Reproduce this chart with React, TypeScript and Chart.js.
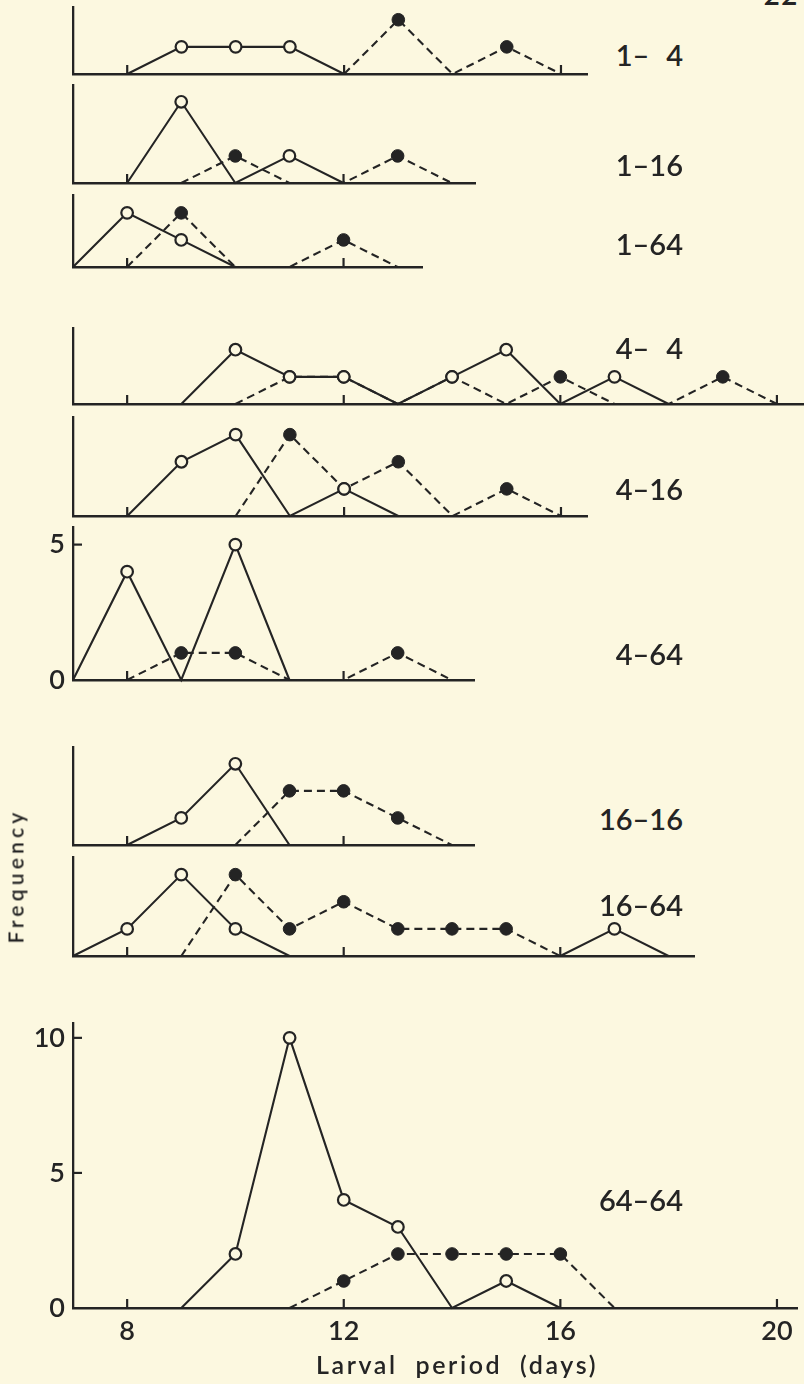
import React, { useEffect, useRef } from 'react';
import { Chart, registerables } from 'chart.js';

Chart.register(...registerables);

// ---------- data ----------
const DAYS = [7, 8, 9, 10, 11, 12, 13, 14, 15, 16, 17, 18, 19, 20];
const X_TICKS = [8, 12, 16, 20];
const Y_TICKS = [0, 5, 10];
const CROSSES = ['1–\u20074', '1–16', '1–64', '4–\u20074', '4–16', '4–64', '16–16', '16–64', '64–64'];

// frequency per day of DAYS (null = no point)
// open circles / solid lines, filled circles / dashed lines
const OPEN_1_4 = [null, 0, 1, 1, 1, 0, null, null, null, null, null, null, null, null];
const FILLED_1_4 = [null, null, null, null, null, 0, 2, 0, 1, 0, null, null, null, null];
const OPEN_1_16 = [null, 0, 3, 0, 1, 0, null, null, null, null, null, null, null, null];
const FILLED_1_16 = [null, null, 0, 1, 0, 0, 1, 0, null, null, null, null, null, null];
const OPEN_1_64 = [0, 2, 1, 0, null, null, null, null, null, null, null, null, null, null];
const FILLED_1_64 = [null, 0, 2, 0, 0, 1, 0, null, null, null, null, null, null, null];
const OPEN_4_4 = [null, null, 0, 2, 1, 1, 0, 1, 2, 0, 1, 0, null, null];
const FILLED_4_4 = [null, null, null, 0, 1, 1, 0, 1, 0, 1, 0, 0, 1, 0];
const OPEN_4_16 = [null, 0, 2, 3, 0, 1, 0, null, null, null, null, null, null, null];
const FILLED_4_16 = [null, null, null, 0, 3, 1, 2, 0, 1, 0, null, null, null, null];
const OPEN_4_64 = [0, 4, 0, 5, 0, null, null, null, null, null, null, null, null, null];
const FILLED_4_64 = [null, 0, 1, 1, 0, 0, 1, 0, null, null, null, null, null, null];
const OPEN_16_16 = [null, 0, 1, 3, 0, null, null, null, null, null, null, null, null, null];
const FILLED_16_16 = [null, null, null, 0, 2, 2, 1, 0, null, null, null, null, null, null];
const OPEN_16_64 = [0, 1, 3, 1, 0, null, null, null, null, 0, 1, 0, null, null];
const FILLED_16_64 = [null, null, 0, 3, 1, 2, 1, 1, 1, 0, null, null, null, null];
const OPEN_64_64 = [null, null, 0, 2, 10, 4, 3, 0, 1, 0, null, null, null, null];
const FILLED_64_64 = [null, null, null, null, 0, 1, 2, 2, 2, 2, 0, null, null, null];

// axis extents of each panel (days, frequency)
const PANEL_X_MAX = [16.48, 14.43, 13.45, 20.5, 16.48, 14.41, 14.41, 18.47, 20.37];
const PANEL_Y_MAX = [2.47, 3.62, 2.66, 2.8, 3.65, 5.65, 3.62, 3.65, 10.55];

const SERIES = [
  [OPEN_1_4, FILLED_1_4],
  [OPEN_1_16, FILLED_1_16],
  [OPEN_1_64, FILLED_1_64],
  [OPEN_4_4, FILLED_4_4],
  [OPEN_4_16, FILLED_4_16],
  [OPEN_4_64, FILLED_4_64],
  [OPEN_16_16, FILLED_16_16],
  [OPEN_16_64, FILLED_16_64],
  [OPEN_64_64, FILLED_64_64],
];

// ---------- layout / style ----------
const BASE_Y = [74, 183, 267, 404, 516, 680, 845, 956, 1308];
const LABEL_Y = [56, 166, 245, 349, 490, 655, 820, 906, 1201];
const SHOW_Y = [false, false, false, false, false, true, false, false, true];
const INK = '#242424';
const BG = '#fcf8e0';
const PX_PER_DAY = 54.17;
const PX_PER_UNIT = 27.0;
const AXIS_X = 73;
const PAD_L = 70;
const PAD_R = 14;
const PAD_T = 14;
const TICK_LEN = 9;
const FONT = 'Lato, "DejaVu Sans", sans-serif';

const inwardTicks = {
  id: 'inwardTicks',
  beforeDatasetsDraw(chart: any) {
    const { ctx, chartArea: a, scales } = chart;
    const x = scales.x;
    const y = scales.y;
    ctx.save();
    ctx.strokeStyle = INK;
    ctx.lineWidth = 2.2;
    for (const t of x.ticks) {
      const px = x.getPixelForValue(t.value);
      ctx.beginPath();
      ctx.moveTo(px, a.bottom);
      ctx.lineTo(px, a.bottom - TICK_LEN);
      ctx.stroke();
    }
    for (const t of y.ticks) {
      if (t.value === 0) continue;
      const py = y.getPixelForValue(t.value);
      ctx.beginPath();
      ctx.moveTo(a.left, py);
      ctx.lineTo(a.left + TICK_LEN, py);
      ctx.stroke();
    }
    ctx.restore();
  },
};

function toPoints(vals: (number | null)[]) {
  return DAYS.map((d, i) => ({ x: d, y: vals[i] }));
}

function zeroPadding(s: any) {
  s.paddingLeft = 0;
  s.paddingRight = 0;
  s.paddingTop = 0;
  s.paddingBottom = 0;
}

function Panel({ i }: { i: number }) {
  const ref = useRef<HTMLCanvasElement>(null);
  const isLast = i === SERIES.length - 1;
  const padB = isLast ? 48 : SHOW_Y[i] ? 22 : 14;
  const plotW = Math.round((PANEL_X_MAX[i] - 7) * PX_PER_DAY);
  const plotH = Math.round(PANEL_Y_MAX[i] * PX_PER_UNIT);
  const W = PAD_L + plotW + PAD_R;
  const H = PAD_T + plotH + padB;
  const left = AXIS_X - PAD_L;
  const top = BASE_Y[i] - plotH - PAD_T;

  useEffect(() => {
    const [open, filled] = SERIES[i];
    const chart = new Chart(ref.current as HTMLCanvasElement, {
      type: 'line',
      data: {
        datasets: [
          {
            data: toPoints(open),
            borderColor: INK,
            borderWidth: 2.1,
            tension: 0,
            fill: false,
            spanGaps: false,
            clip: false,
            pointStyle: 'circle',
            pointRadius: (c: any) => (c.raw && c.raw.y > 0 ? 5.8 : 0),
            pointBackgroundColor: BG,
            pointBorderColor: INK,
            pointBorderWidth: 2.2,
          } as any,
          {
            data: toPoints(filled),
            borderColor: INK,
            borderWidth: 2.1,
            borderDash: [8, 5],
            tension: 0,
            fill: false,
            spanGaps: false,
            clip: false,
            pointStyle: 'circle',
            pointRadius: (c: any) => (c.raw && c.raw.y > 0 ? 6.3 : 0),
            pointBackgroundColor: INK,
            pointBorderColor: INK,
            pointBorderWidth: 1,
          } as any,
        ],
      },
      options: {
        responsive: false,
        animation: false,
        events: [],
        layout: { padding: { left: 0, top: PAD_T, right: PAD_R, bottom: 0 } },
        plugins: { legend: { display: false }, tooltip: { enabled: false } },
        scales: {
          x: {
            type: 'linear',
            min: 7,
            max: PANEL_X_MAX[i],
            afterBuildTicks: (s: any) => {
              s.ticks = X_TICKS.filter((v) => v >= s.min && v <= s.max).map((value) => ({ value }));
            },
            afterFit: (s: any) => {
              s.height = padB;
              zeroPadding(s);
            },
            grid: { display: false, drawTicks: false },
            border: { display: true, color: INK, width: 2.5 },
            ticks: {
              display: isLast,
              color: INK,
              padding: 7,
              maxRotation: 0,
              autoSkip: false,
              font: { family: FONT, size: 27, weight: '600' },
              callback: (v: any) => String(v),
            },
          },
          y: {
            type: 'linear',
            min: 0,
            max: PANEL_Y_MAX[i],
            afterBuildTicks: (s: any) => {
              s.ticks = SHOW_Y[i] ? Y_TICKS.filter((v) => v >= s.min && v <= s.max).map((value) => ({ value })) : [];
            },
            afterFit: (s: any) => {
              s.width = PAD_L;
              zeroPadding(s);
            },
            grid: { display: false, drawTicks: false },
            border: { display: true, color: INK, width: 2.3 },
            ticks: {
              display: SHOW_Y[i],
              color: INK,
              padding: 8,
              autoSkip: false,
              font: { family: FONT, size: 27, weight: '600' },
              callback: (v: any) => String(v),
            },
          },
        },
      } as any,
      plugins: [inwardTicks],
    });
    return () => chart.destroy();
  }, [i]);

  return (
    <canvas
      ref={ref}
      width={W}
      height={H}
      style={{ position: 'absolute', left, top, width: W, height: H }}
    />
  );
}

export default function App() {
  useEffect(() => {
    document.body.style.margin = '0';
    document.body.style.background = BG;
  }, []);

  return (
    <div
      style={{
        position: 'absolute',
        left: 0,
        top: 0,
        width: 804,
        height: 1384,
        overflow: 'hidden',
        background: BG,
        color: INK,
        fontFamily: FONT,
        fontWeight: 600,
      }}
    >
      {SERIES.map((_, i) => (
        <Panel key={i} i={i} />
      ))}
      {CROSSES.map((t, i) => (
        <div
          key={'l' + i}
          style={{
            position: 'absolute',
            right: 804 - 683,
            top: LABEL_Y[i] - 19,
            fontSize: 29,
            lineHeight: '36px',
            whiteSpace: 'pre',
          }}
        >
          {t}
        </div>
      ))}
      <div
        style={{
          position: 'absolute',
          left: 457,
          top: 1349,
          transform: 'translateX(-50%)',
          fontSize: 25,
          lineHeight: '30px',
          letterSpacing: 2.6,
          wordSpacing: 9,
          whiteSpace: 'pre',
        }}
      >
        Larval period (days)
      </div>
      <div
        style={{
          position: 'absolute',
          left: 15,
          top: 876,
          transform: 'translate(-50%, -50%) rotate(-90deg)',
          fontSize: 21,
          lineHeight: '25px',
          letterSpacing: 4.2,
          whiteSpace: 'pre',
        }}
      >
        Frequency
      </div>
      <div
        style={{
          position: 'absolute',
          left: 764,
          top: -22,
          fontStyle: 'italic',
          fontSize: 30,
          lineHeight: '30px',
          whiteSpace: 'pre',
        }}
      >
        224
      </div>
    </div>
  );
}
